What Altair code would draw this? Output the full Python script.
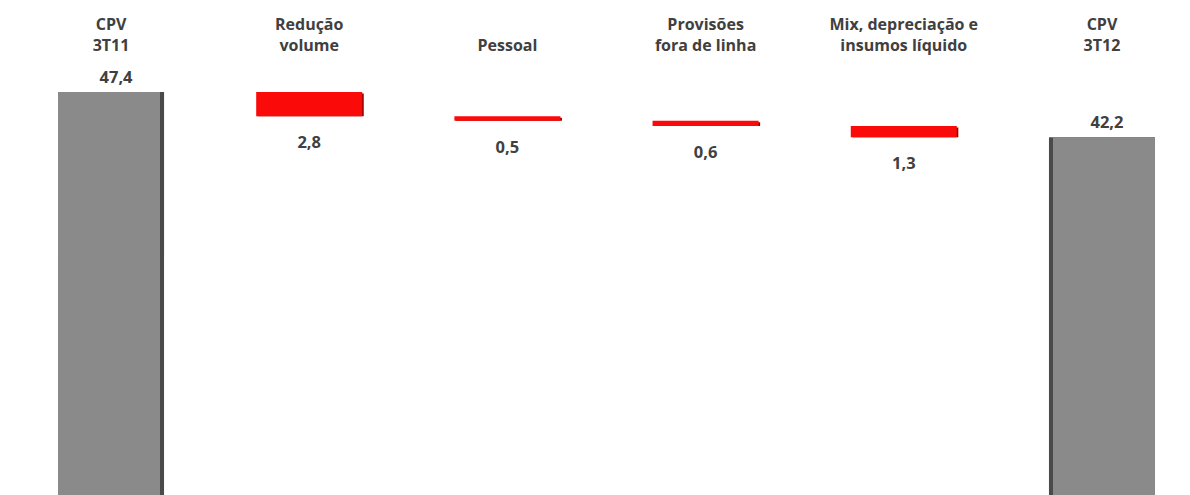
import altair as alt
import pandas as pd

# ---- data ----
categories = ["CPV 3T11", "Redução volume", "Pessoal", "Provisões fora de linha",
              "Mix, depreciação e insumos líquido", "CPV 3T12"]
label_lines = [["CPV", "3T11"], ["Redução", "volume"], [" ", "Pessoal"],
               ["Provisões", "fora de linha"], ["Mix, depreciação e", "insumos líquido"],
               ["CPV", "3T12"]]
values = [47.4, -2.8, -0.5, -0.6, -1.3, 42.2]
kinds = ["first", "delta", "delta", "delta", "delta", "last"]

# ---- waterfall table ----
rows = []
running = 0.0
for cat, lines, v, k in zip(categories, label_lines, values, kinds):
    if k in ("first", "last"):
        start, end = 0.0, v
        running = v
    else:
        start, end = running, running + v
        running = end
    rows.append(dict(cat=cat, lines=lines, start=start, end=end, kind=k,
                     txt=f"{abs(v):.1f}".replace(".", ",")))
df = pd.DataFrame(rows)

TXT = "#404040"
FONT = "Open Sans"

xenc = alt.X("cat:N", sort=categories, axis=None,
             scale=alt.Scale(paddingInner=0.465, paddingOuter=0, range=[58, 1155]))
yscale = alt.Scale(domain=[1, 58], zero=False, nice=False)

base = alt.Chart(df)

def bars(filter_expr, color, width=None, xoff=0, yoff=0):
    kw = dict(color=color, clip=True, xOffset=xoff, yOffset=yoff)
    if width is not None:
        kw["width"] = alt.RelativeBandSize(width)
    return base.transform_filter(filter_expr).mark_bar(**kw).encode(
        x=xenc,
        y=alt.Y("start:Q", scale=yscale, axis=None),
        y2="end:Q",
    )

gray_dark = bars("datum.kind != 'delta'", "#4a4a4a")
gray_first = bars("datum.kind == 'first'", "#8a8a8a", width=0.962, xoff=-2)
gray_last = bars("datum.kind == 'last'", "#8a8a8a", width=0.962, xoff=2)
red_shadow = bars("datum.kind == 'delta'", "#8c0000", xoff=1.5, yoff=1.5)
red = bars("datum.kind == 'delta'", "#fb0a0a")

total_labels = base.transform_filter("datum.kind != 'delta'").mark_text(
    font=FONT, fontWeight="bold", fontSize=16.5, color=TXT, baseline="alphabetic",
    dy=-9, dx=5
).encode(x=xenc, y=alt.Y("end:Q", scale=yscale), text="txt:N")

delta_labels = base.transform_filter("datum.kind == 'delta'").mark_text(
    font=FONT, fontWeight="bold", fontSize=16.5, color=TXT, baseline="alphabetic", dy=32
).encode(x=xenc, y=alt.Y("end:Q", scale=yscale), text="txt:N")

cat_labels = base.mark_text(
    font=FONT, fontWeight="bold", fontSize=16, color=TXT, baseline="alphabetic",
    lineHeight=21
).encode(x=xenc, y=alt.value(30), text="lines")

chart = alt.layer(
    gray_dark, gray_first, gray_last, red_shadow, red,
    total_labels, delta_labels, cat_labels
).properties(
    width=1190, height=495,
    padding={"left": 0, "top": 0, "right": 0, "bottom": 0},
    autosize=alt.AutoSizeParams(type="none"),
).configure(background="white").configure_view(stroke=None, strokeWidth=0)

chart.save("out.html", embed_options={"renderer": "svg", "actions": False})
